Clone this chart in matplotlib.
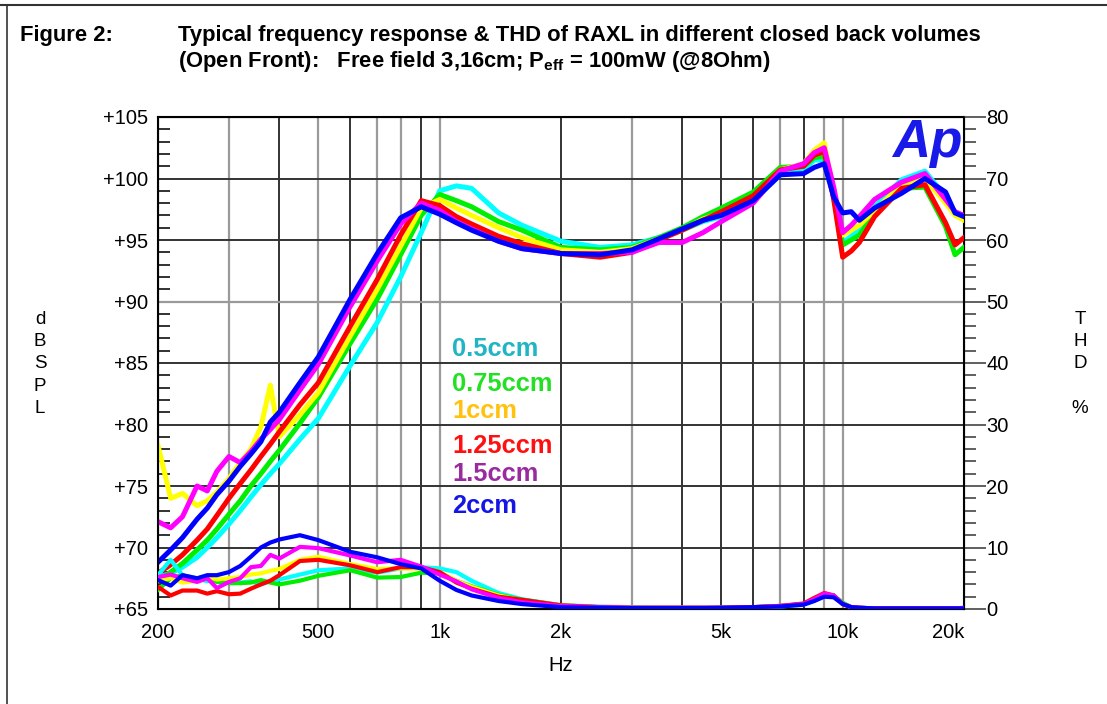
import matplotlib
matplotlib.use('Agg')
import matplotlib.pyplot as plt
from matplotlib.ticker import MultipleLocator, NullLocator
from matplotlib.lines import Line2D

plt.rcParams['font.family'] = ['Liberation Sans', 'DejaVu Sans']
plt.rcParams['mathtext.fontset'] = 'custom'
plt.rcParams['mathtext.rm'] = 'Liberation Sans'
plt.rcParams['mathtext.bf'] = 'Liberation Sans:bold'

# frequency grid (Hz)
freq = [200, 215, 230, 250, 265, 280, 300, 320, 340, 360, 380, 400, 450, 500, 600, 700, 800, 900,
        1000, 1100, 1200, 1400, 1600, 2000, 2500, 3000, 3500, 4000, 4500, 5000, 6000, 7000, 8000,
        8500, 9000, 9500, 10000, 10500, 11000, 12000, 14000, 16000, 18000, 19000, 20000]

# frequency response, dB SPL
fr_05 = [67.6, 67.9, 68.4, 69.2, 70.0, 70.8, 71.9, 73.0, 74.1, 75.1, 76.0, 76.8, 78.8, 80.5, 84.8, 88.3, 92.0, 95.6,
         99.0, 99.4, 99.2, 97.2, 96.2, 94.9, 94.4, 94.6, 95.2, 95.8, 96.5, 96.9, 98.2, 100.3, 100.7,
         101.5, 101.5, 98.5, 94.8, 95.3, 95.8, 97.7, 99.9, 100.6, 98.5, 97.2, 96.8]
fr_075 = [67.3, 68.0, 68.7, 69.8, 70.6, 71.5, 72.7, 73.8, 75.0, 76.0, 77.0, 77.9, 80.1, 82.2, 86.6, 90.2, 93.8, 97.0,
          98.7, 98.2, 97.7, 96.5, 95.8, 94.4, 94.2, 94.4, 95.2, 96.0, 96.9, 97.6, 98.9, 100.9, 101.0,
          101.7, 101.8, 98.5, 94.6, 95.0, 95.4, 97.2, 99.2, 99.3, 96.1, 93.8, 94.4]
fr_1 = [78.3, 74.0, 74.4, 73.4, 73.8, 74.5, 75.6, 76.9, 78.0, 79.8, 83.2, 79.0, 80.8, 82.6, 87.2, 91.0, 94.5, 97.6,
        98.3, 97.6, 97.0, 96.0, 95.2, 94.2, 94.0, 94.3, 95.1, 95.8, 96.7, 97.2, 98.5, 100.7, 101.2,
        102.3, 102.9, 98.8, 95.4, 95.8, 96.2, 97.4, 99.5, 100.0, 98.0, 97.0, 96.6]
fr_125 = [67.9, 68.6, 69.4, 70.6, 71.5, 72.6, 74.0, 75.2, 76.3, 77.4, 78.4, 79.4, 81.6, 83.4, 88.0, 91.8, 95.4, 98.2,
          97.8, 96.9, 96.3, 95.3, 94.7, 93.9, 93.6, 94.0, 95.0, 95.8, 96.6, 97.3, 98.6, 100.7, 101.0,
          101.9, 102.2, 98.3, 93.6, 94.1, 94.8, 96.9, 99.2, 99.5, 96.4, 94.6, 95.2]
fr_15 = [72.1, 71.6, 72.5, 75.0, 74.6, 76.2, 77.4, 76.9, 77.8, 78.8, 79.6, 80.4, 82.8, 84.9, 89.6, 93.3, 96.3, 98.0,
         97.4, 96.5, 95.9, 94.9, 94.3, 93.9, 93.9, 94.0, 94.8, 94.8, 95.6, 96.5, 98.0, 100.6, 101.2,
         102.1, 102.5, 99.3, 95.6, 96.2, 96.9, 98.3, 99.7, 100.4, 98.3, 97.3, 97.0]
fr_2 = [68.8, 69.8, 70.8, 72.3, 73.2, 74.3, 75.4, 76.6, 77.6, 78.6, 80.2, 81.0, 83.4, 85.5, 90.2, 93.9, 96.8, 97.7,
        97.1, 96.4, 95.8, 94.9, 94.3, 93.9, 93.8, 94.2, 95.1, 95.9, 96.6, 97.0, 98.2, 100.3, 100.4,
        100.9, 101.2, 98.5, 97.2, 97.3, 96.6, 97.6, 98.8, 100.0, 98.9, 97.2, 96.9]

# THD, %
thd_05 = [5.5, 8.0, 5.5, 5.0, 4.5, 4.8, 4.5, 4.3, 4.5, 4.0, 4.5, 4.8, 5.6, 6.3, 6.6, 5.9, 6.6, 6.8,
          6.6, 6.0, 4.6, 2.6, 1.6, 0.6, 0.4, 0.3, 0.2, 0.2, 0.2, 0.2, 0.3, 0.4, 0.7,
          1.3, 2.2, 2.1, 1.0, 0.3, 0.2, 0.1, 0.1, 0.1, 0.1, 0.1, 0.1]
thd_075 = [3.1, 5.0, 5.5, 4.8, 5.2, 4.4, 4.2, 4.2, 4.3, 4.7, 4.3, 4.0, 4.6, 5.4, 6.3, 5.1, 5.2, 5.9,
           5.8, 4.6, 3.7, 2.3, 1.5, 0.6, 0.3, 0.2, 0.2, 0.2, 0.2, 0.2, 0.3, 0.5, 0.8,
           1.4, 2.2, 2.2, 1.0, 0.3, 0.2, 0.1, 0.1, 0.1, 0.1, 0.1, 0.1]
thd_1 = [4.5, 5.0, 4.3, 4.6, 5.3, 4.8, 5.0, 5.2, 5.6, 5.8, 6.2, 6.5, 8.0, 8.5, 7.3, 6.5, 6.6, 6.5,
         6.0, 4.6, 3.6, 2.2, 1.4, 0.6, 0.3, 0.2, 0.2, 0.2, 0.2, 0.2, 0.3, 0.5, 0.8,
         1.6, 2.4, 2.1, 0.8, 0.3, 0.2, 0.1, 0.1, 0.1, 0.1, 0.1, 0.1]
thd_125 = [3.6, 2.2, 3.0, 3.0, 2.5, 2.9, 2.4, 2.5, 3.3, 4.0, 4.6, 5.5, 7.8, 8.0, 7.1, 6.0, 6.8, 6.8,
           6.0, 4.3, 3.3, 2.0, 1.5, 0.6, 0.3, 0.2, 0.2, 0.2, 0.2, 0.2, 0.3, 0.5, 0.9,
           1.8, 2.6, 2.2, 0.8, 0.3, 0.2, 0.1, 0.1, 0.1, 0.1, 0.1, 0.1]
thd_15 = [5.2, 5.6, 5.0, 4.4, 5.0, 3.4, 4.4, 5.0, 6.8, 7.0, 8.8, 8.2, 10.1, 9.9, 8.7, 7.6, 8.0, 6.9,
          5.6, 4.5, 3.2, 1.8, 1.1, 0.5, 0.3, 0.2, 0.2, 0.2, 0.2, 0.2, 0.3, 0.5, 0.8,
          1.6, 2.5, 2.2, 0.8, 0.3, 0.2, 0.1, 0.1, 0.1, 0.1, 0.1, 0.2]
thd_2 = [4.7, 3.8, 5.5, 5.0, 5.5, 5.5, 6.0, 7.0, 8.5, 10.0, 10.8, 11.3, 12.0, 11.2, 9.3, 8.4, 7.3, 6.6,
         4.6, 3.1, 2.2, 1.3, 0.8, 0.3, 0.2, 0.15, 0.15, 0.15, 0.15, 0.2, 0.3, 0.4, 0.7,
         1.3, 2.0, 1.9, 0.8, 0.3, 0.2, 0.1, 0.1, 0.1, 0.1, 0.1, 0.1]

labels = ['0.5ccm', '0.75ccm', '1ccm', '1.25ccm', '1.5ccm', '2ccm']
line_colors = ['#00ffff', '#00ee00', '#ffff00', '#ff0000', '#ff00ff', '#0000ff']
text_colors = ['#20b4c4', '#22e022', '#ffc20e', '#ff1010', '#9a2aa0', '#1515e6']
fr_all = [fr_05, fr_075, fr_1, fr_125, fr_15, fr_2]
thd_all = [thd_05, thd_075, thd_1, thd_125, thd_15, thd_2]

xtick_vals = [200, 500, 1000, 2000, 5000, 10000, 20000]
xtick_text = ['200', '500', '1k', '2k', '5k', '10k', '20k']
vgrid_dark = [400, 600, 900, 2000, 4000, 5000, 6000, 8000]
vgrid_gray = [300, 500, 700, 800, 1000, 3000, 7000, 9000, 10000]

W, H = 1107, 704
fig = plt.figure(figsize=(W / 100, H / 100), dpi=100)
ax = fig.add_axes([158 / W, 95 / H, 806 / W, 492 / H])
ax.set_xscale('log')
ax.set_xlim(200, 20000)
ax.set_ylim(65, 105)

for f in vgrid_dark:
    ax.axvline(f, color='#333333', lw=1.4, zorder=1)
for f in vgrid_gray:
    ax.axvline(f, color='#9a9a9a', lw=1.6, zorder=1)
for v in [70, 75, 80, 85, 95, 100]:
    ax.axhline(v, color='#333333', lw=1.4, zorder=1)
ax.axhline(90, color='#9a9a9a', lw=1.6, zorder=1)

for fr, c in zip(fr_all, line_colors):
    ax.plot(freq, fr, color=c, lw=3.6, solid_joinstyle='round', zorder=3)

ax.set_xticks(xtick_vals)
ax.set_xticklabels(xtick_text)
ax.xaxis.set_minor_locator(NullLocator())
ax.tick_params(axis='x', length=0, pad=10, labelsize=14.5)
ax.get_xticklabels()[-1].set_ha('right')
ax.set_yticks(range(65, 106, 5))
ax.set_yticklabels(['+%d' % v for v in range(65, 106, 5)])
ax.yaxis.set_minor_locator(MultipleLocator(1))
ax.tick_params(axis='y', which='major', length=0, pad=7, labelsize=14.5)
ax.tick_params(axis='y', which='minor', direction='in', length=8.5, width=1.3, color='#222222')
for s in ax.spines.values():
    s.set_linewidth(1.5)
ax.set_xlabel('Hz', fontsize=14.5, labelpad=10)

ax2 = ax.twinx()
ax2.set_ylim(0, 80)
for thd, c in zip(thd_all, line_colors):
    ax2.plot(freq, thd, color=c, lw=3.0, solid_joinstyle='round', zorder=3)
ax2.set_yticks(range(0, 81, 10))
ax2.yaxis.set_minor_locator(MultipleLocator(2))
ax2.tick_params(axis='y', which='major', direction='out', length=16, width=1.2, pad=0, labelsize=14.5,
                color='#444444')
ax2.tick_params(axis='y', which='minor', direction='out', length=8.5, width=1.2, color='#444444')
ax2.set_xlim(200, 20000)

# legend texts
ys = [349, 384, 411, 446, 474, 506]
for lab, c, y in zip(labels, text_colors, ys):
    fig.text(452 / W, 1 - y / H, lab, color=c, fontsize=18.3, fontweight='bold', ha='left', va='center')

fig.text(927 / W, 1 - 143 / H, 'Ap', color='#1a1ae8', fontsize=38, fontweight='bold', style='italic',
         ha='center', va='center')

fig.text(40 / W, 1 - 364 / H, 'd\nB\nS\nP\nL', fontsize=13.5, ha='center', va='center', linespacing=1.42)
fig.text(1080 / W, 1 - 364 / H, 'T\nH\nD\n\n%', fontsize=13.5, ha='center', va='center', linespacing=1.42)

fig.text(20 / W, 1 - 35 / H, 'Figure 2:', fontsize=15.8, fontweight='bold', ha='left', va='center')
fig.text(178 / W, 1 - 35 / H, 'Typical frequency response & THD of RAXL in different closed back volumes',
         fontsize=15.8, fontweight='bold', ha='left', va='center')
fig.text(178 / W, 1 - 62 / H, r'(Open Front):   Free field 3,16cm; $\mathbf{P_{eff}}$ = 100mW (@8Ohm)',
         fontsize=15.8, fontweight='bold', ha='left', va='center')

fig.add_artist(Line2D([0, 1], [1 - 5 / H, 1 - 5 / H], color='#333333', lw=1.5))
fig.add_artist(Line2D([7 / W, 7 / W], [0, 1 - 5 / H], color='#333333', lw=1.2))

fig.savefig('out.png', dpi=100)
